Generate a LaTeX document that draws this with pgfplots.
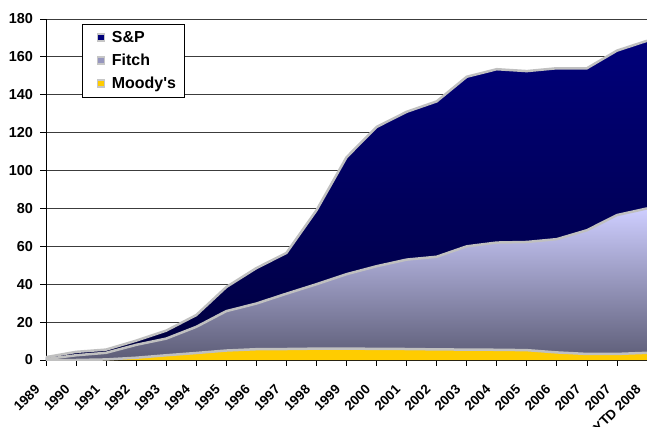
\documentclass[border=0pt]{standalone}
\usepackage{fontspec}
\setmainfont{Liberation Sans}
\usepackage{pgfplots}
\pgfplotsset{compat=1.18}
\definecolor{sptop}{RGB}{0,0,122}
\definecolor{spbot}{RGB}{0,0,62}
\definecolor{fitop}{RGB}{206,206,255}
\definecolor{fibot}{RGB}{92,92,118}
\definecolor{fimid}{RGB}{150,150,190}
\definecolor{moody}{RGB}{255,204,0}
\definecolor{edge}{RGB}{192,192,192}
\definecolor{gridc}{RGB}{60,60,60}
\pgfplotsset{
  sqleg/.style={legend image code/.code={\path (-9bp,0) (12bp,0);\draw[draw=gray!45, line width=1.6bp, fill=#1] (0bp,-3.5bp) rectangle (7bp,3.5bp);}}
}
\begin{document}
\begin{tikzpicture}
\begin{axis}[
  scale only axis,
  width=601bp, height=341bp,
  xmin=0, xmax=20, ymin=0, ymax=180,
  axis lines*=left,
  axis line style={black, line width=0.8bp},
  xtick={0,...,20},
  xticklabels={1989,1990,1991,1992,1993,1994,1995,1996,1997,1998,1999,2000,2001,2002,2003,2004,2005,2006,2007,2007,YTD 2008},
  ytick={0,20,...,180},
  tick align=outside,
  major tick length=5.5bp,
  tick style={black, line width=0.8bp},
  ymajorgrids,
  grid style={gridc, line width=0.8bp},
  /pgf/number format/assume math mode=true,
  yticklabel style={font=\fontsize{14.5}{17}\selectfont\bfseries, xshift=-4bp},
  xticklabel style={font=\fontsize{13.5}{16}\selectfont\bfseries, xshift=-12bp, yshift=-18bp, rotate=45, anchor=north east, inner sep=0pt},
  legend style={at={(0.06,0.985)}, anchor=north west, draw=black, line width=0.6bp,
    font=\fontsize{16}{19}\selectfont\bfseries, row sep=6bp, inner xsep=6bp, inner ysep=5bp,
    cells={anchor=west}},
  legend cell align=left,
]
% S&P (cumulative total)
\addplot[draw=none, top color=sptop, bottom color=spbot, forget plot] coordinates {
(0,1.5) (1,4.3) (2,5.5) (3,10.2) (4,15.5) (5,23.7) (6,38.5) (7,48.5) (8,56.5) (9,79.0)
(10,107.0) (11,123.0) (12,131.0) (13,136.5) (14,149.5) (15,153.5) (16,152.5) (17,154.0) (18,154.0) (19,163.3) (20,168.5)
} \closedcycle;
% Fitch (cumulative Moody's + Fitch)
\addplot[draw=none, top color=fitop, bottom color=fibot, forget plot] coordinates {
(0,0.5) (1,2.5) (2,3.8) (3,8.0) (4,11.3) (5,17.5) (6,25.8) (7,29.8) (8,35.0) (9,40.0)
(10,45.3) (11,49.5) (12,53.0) (13,54.5) (14,60.0) (15,62.0) (16,62.3) (17,63.8) (18,68.5) (19,76.5) (20,80.0)
} \closedcycle;
% Moody's
\addplot[draw=none, fill=moody, forget plot] coordinates {
(0,0) (1,0) (2,0.3) (3,1.2) (4,2.5) (5,3.7) (6,5.0) (7,5.7) (8,5.8) (9,6.0)
(10,6.0) (11,5.9) (12,5.8) (13,5.6) (14,5.5) (15,5.4) (16,5.2) (17,4.0) (18,3.2) (19,3.2) (20,3.8)
} \closedcycle;
% outlines
\addplot[edge, line width=2.5bp, forget plot] coordinates {
(0,1.5) (1,4.3) (2,5.5) (3,10.2) (4,15.5) (5,23.7) (6,38.5) (7,48.5) (8,56.5) (9,79.0)
(10,107.0) (11,123.0) (12,131.0) (13,136.5) (14,149.5) (15,153.5) (16,152.5) (17,154.0) (18,154.0) (19,163.3) (20,168.5)
};
\addplot[edge, line width=2.5bp, forget plot] coordinates {
(0,0.5) (1,2.5) (2,3.8) (3,8.0) (4,11.3) (5,17.5) (6,25.8) (7,29.8) (8,35.0) (9,40.0)
(10,45.3) (11,49.5) (12,53.0) (13,54.5) (14,60.0) (15,62.0) (16,62.3) (17,63.8) (18,68.5) (19,76.5) (20,80.0)
};
\addplot[edge, line width=2.5bp, forget plot] coordinates {
(0,0) (1,0) (2,0.3) (3,1.2) (4,2.5) (5,3.7) (6,5.0) (7,5.7) (8,5.8) (9,6.0)
(10,6.0) (11,5.9) (12,5.8) (13,5.6) (14,5.5) (15,5.4) (16,5.2) (17,4.0) (18,3.2) (19,3.2) (20,3.8)
};
\addlegendimage{sqleg=sptop}
\addlegendentry{S\&P}
\addlegendimage{sqleg=fimid}
\addlegendentry{Fitch}
\addlegendimage{sqleg=moody}
\addlegendentry{Moody\textquotesingle s}
\end{axis}
\pgfresetboundingbox
\path (-46bp,-67bp) rectangle (601bp,360bp);
\end{tikzpicture}
\end{document}
